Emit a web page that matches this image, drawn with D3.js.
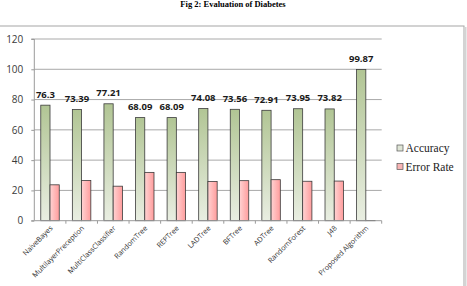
<!DOCTYPE html>
<html>
<head>
<meta charset="utf-8">
<script src="https://cdn.jsdelivr.net/npm/d3@7"></script>
<style>
    body { margin: 0; background: #fff; }
    svg { display: block; }
</style>
</head>
<body>
<div id="chart"></div>
<script>
// values
const algorithms = ["NaiveBayes", "MultilayerPreception", "MultiClassClassifier", "RandomTree",
    "REPTree", "LADTree", "BFTree", "ADTree", "RandomForest", "J48", "Proposed Algorithm"];
const accuracy = [76.3, 73.39, 77.21, 68.09, 68.09, 74.08, 73.56, 72.91, 73.95, 73.82, 99.87];
const errorRate = [23.7, 26.61, 22.79, 31.91, 31.91, 25.92, 26.44, 27.09, 26.05, 26.18, 0.13];
const seriesNames = ["Accuracy", "Error Rate"];
const yTicks = [0, 20, 40, 60, 80, 100, 120];

class GroupedBarChart {
    constructor(_config) {
        this.config = {
            parentElement: _config.parentElement,
            containerWidth: _config.containerWidth,
            containerHeight: _config.containerHeight,
            margin: _config.margin
        };
        this.data = algorithms.map((name, i) => ({ name: name, acc: accuracy[i], err: errorRate[i] }));
        this.initVis();
        this.renderVis();
    }

    initVis() {
        let vis = this;
        let m = vis.config.margin;

        vis.width = vis.config.containerWidth - m.left - m.right;
        vis.height = vis.config.containerHeight - m.top - m.bottom;

        vis.svg = d3.select(vis.config.parentElement).append("svg")
            .attr("width", vis.config.containerWidth)
            .attr("height", vis.config.containerHeight);

        // gradients for the two series
        let defs = vis.svg.append("defs");
        let gAcc = defs.append("linearGradient").attr("id", "gradAcc")
            .attr("x1", 0).attr("y1", 0).attr("x2", 0).attr("y2", 1);
        gAcc.append("stop").attr("offset", "0%").attr("stop-color", "#b1c594");
        gAcc.append("stop").attr("offset", "100%").attr("stop-color", "#e9eee2");
        let gErr = defs.append("linearGradient").attr("id", "gradErr")
            .attr("x1", 0).attr("y1", 0).attr("x2", 1).attr("y2", 0);
        gErr.append("stop").attr("offset", "0%").attr("stop-color", "#ffd3d3");
        gErr.append("stop").attr("offset", "100%").attr("stop-color", "#ff9c9c");

        // outer frame of the excel chart
        vis.svg.append("rect")
            .attr("x", -2).attr("y", 26)
            .attr("width", 466).attr("height", 280)
            .attr("fill", "none")
            .attr("stroke", "#a6a6a6")
            .attr("stroke-width", 1);
        vis.svg.append("rect")
            .attr("x", 464).attr("y", 27)
            .attr("width", 2.5).attr("height", 260)
            .attr("fill", "#d4d4d4");

        // title above the frame
        vis.svg.append("text")
            .attr("x", 233)
            .attr("y", 7)
            .attr("text-anchor", "middle")
            .style("font-family", "'Liberation Serif', 'Times New Roman', serif")
            .style("font-size", "8.5px")
            .style("font-weight", "bold")
            .text("Fig 2: Evaluation of Diabetes");

        vis.chart = vis.svg.append("g")
            .attr("transform", `translate(${m.left},${m.top})`);

        vis.xScale0 = d3.scaleBand()
            .domain(algorithms)
            .range([0, vis.width])
            .padding(0);
        vis.xScale1 = d3.scaleBand()
            .domain(["acc", "err"])
            .range([vis.xScale0.bandwidth() * 0.205, vis.xScale0.bandwidth() * 0.79])
            .padding(0);
        vis.yScale = d3.scaleLinear()
            .domain([0, 120])
            .range([vis.height, 0]);

        // gridlines
        vis.chart.append("g")
            .selectAll("line")
            .data(yTicks.filter(d => d > 0))
            .enter().append("line")
            .attr("x1", 0)
            .attr("x2", vis.width)
            .attr("y1", d => vis.yScale(d))
            .attr("y2", d => vis.yScale(d))
            .attr("stroke", "#a9a9a9")
            .attr("stroke-width", 1);
    }

    renderVis() {
        let vis = this;

        let groups = vis.chart.selectAll(".group")
            .data(vis.data)
            .enter().append("g")
            .attr("class", "group")
            .attr("transform", d => `translate(${vis.xScale0(d.name)},0)`);

        groups.append("rect")
            .attr("x", vis.xScale1("acc"))
            .attr("y", d => vis.yScale(d.acc))
            .attr("width", vis.xScale1.bandwidth())
            .attr("height", d => vis.height - vis.yScale(d.acc))
            .attr("fill", "url(#gradAcc)")
            .attr("stroke", "#3b3b3b")
            .attr("stroke-width", 0.8);

        groups.append("rect")
            .attr("x", vis.xScale1("err"))
            .attr("y", d => vis.yScale(d.err))
            .attr("width", vis.xScale1.bandwidth())
            .attr("height", d => vis.height - vis.yScale(d.err))
            .attr("fill", "url(#gradErr)")
            .attr("stroke", "#3b3b3b")
            .attr("stroke-width", 0.8);

        // data labels above the accuracy bars
        groups.append("text")
            .attr("x", vis.xScale1("acc") + vis.xScale1.bandwidth() / 2)
            .attr("y", d => vis.yScale(d.acc) - 7.5)
            .attr("text-anchor", "middle")
            .style("font-family", "'Open Sans', sans-serif")
            .style("font-size", "9.5px")
            .style("font-weight", "bold")
            .attr("fill", "#1a1a1a")
            .text(d => d.acc);

        // y axis
        let yAxis = d3.axisLeft(vis.yScale)
            .tickValues(yTicks)
            .tickSize(3)
            .tickPadding(8);
        let yAxisG = vis.chart.append("g").call(yAxis);
        yAxisG.select(".domain").attr("stroke", "#9a9a9a").attr("d", `M-3,0H0V${vis.height}H-3`);
        yAxisG.selectAll(".tick line").attr("stroke", "#9a9a9a");
        yAxisG.selectAll(".tick text")
            .style("font-family", "'Open Sans', sans-serif")
            .style("font-size", "10px")
            .attr("fill", "#3a3a3a");

        // x axis with ticks on category boundaries
        let xAxisG = vis.chart.append("g")
            .attr("transform", `translate(0,${vis.height})`);
        xAxisG.append("line")
            .attr("x1", 0).attr("x2", vis.width)
            .attr("stroke", "#9a9a9a");
        xAxisG.selectAll(".xtick")
            .data(algorithms)
            .enter().append("line")
            .attr("x1", d => vis.xScale0(d) + vis.xScale0.bandwidth())
            .attr("x2", d => vis.xScale0(d) + vis.xScale0.bandwidth())
            .attr("y1", 0).attr("y2", 3)
            .attr("stroke", "#9a9a9a");
        xAxisG.selectAll(".xlabel")
            .data(algorithms)
            .enter().append("text")
            .attr("text-anchor", "end")
            .attr("transform", d => `translate(${vis.xScale0(d) + vis.xScale0.bandwidth() / 2 + 3},${8}) rotate(-45)`)
            .style("font-family", "'Open Sans', sans-serif")
            .style("font-size", "7.2px")
            .attr("fill", "#333")
            .text(d => d);

        // legend
        vis.legend = vis.svg.append("g")
            .attr("transform", "translate(397,148)");
        let fills = ["#dfe5d6", "#f7b4b4"];
        seriesNames.forEach((s, i) => {
            vis.legend.append("rect")
                .attr("x", 0)
                .attr("y", i * 18.5 - 3)
                .attr("width", 6)
                .attr("height", 6)
                .attr("fill", fills[i])
                .attr("stroke", "#555")
                .attr("stroke-width", 0.7);
            vis.legend.append("text")
                .attr("x", 8.5)
                .attr("y", i * 18.5)
                .attr("dy", "0.35em")
                .style("font-family", "'Liberation Serif', 'Times New Roman', serif")
                .style("font-size", "11.5px")
                .attr("fill", "#222")
                .text(s);
        });
    }
}

const chart = new GroupedBarChart({
    parentElement: "#chart",
    containerWidth: 467,
    containerHeight: 286,
    margin: { top: 39, right: 85.3, bottom: 65.3, left: 34.3 }
});
</script>
</body>
</html>
